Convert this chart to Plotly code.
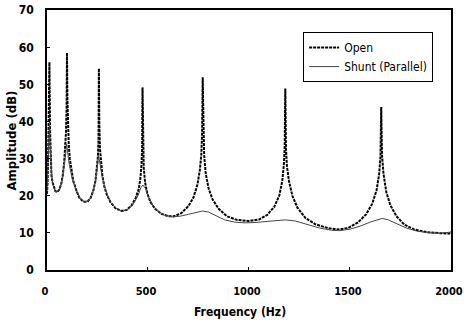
import plotly.graph_objects as go

# Open (dotted) curve
open_freq = [0, 3, 6, 9, 11, 12, 13, 15, 18, 22, 28, 35, 42, 50, 60, 70, 78, 85, 90, 94, 97, 99, 101, 104, 108, 113,
             120, 130, 145, 160, 180, 200, 215, 230, 240, 248, 252, 255, 257, 259, 262, 267, 274, 284, 297, 315, 340,
             370, 395, 420, 440, 455, 463, 468, 471, 473, 475, 479, 486, 497, 512, 535, 565, 600, 630, 665, 700, 725,
             745, 757, 764, 768, 771, 774, 778, 786, 800, 820, 850, 890, 940, 1000, 1050, 1090, 1125, 1150, 1165,
             1173, 1177, 1180, 1183, 1188, 1198, 1215, 1240, 1280, 1330, 1390, 1440, 1490, 1540, 1580, 1610, 1632,
             1645, 1651, 1655, 1659, 1666, 1680, 1700, 1730, 1770, 1820, 1880, 1950, 1990, 2000]
open_amp = [20.5, 24, 32, 42, 52, 56, 50, 38, 29, 25.5, 23.5, 22, 21.2, 21, 21.6, 23, 25.5, 29, 32.5, 37, 44, 58.5, 46,
            38, 33.5, 30, 27, 24, 21.5, 19.5, 18.4, 18.4, 19.3, 21.5, 24, 27.5, 30.5, 35, 54.3, 40, 33, 28.5, 25.5,
            22.5, 20.2, 18.2, 16.6, 15.9, 16.2, 17.5, 19.5, 22, 25, 28.5, 33, 49.2, 33, 27.5, 23.5, 20.5, 18.3, 16.5,
            15.2, 14.5, 14.5, 15.3, 17.2, 19.5, 23, 27, 31, 37, 51.9, 38, 31, 26, 22, 19, 16.5, 14.5, 13.5, 13.2,
            13.6, 14.8, 17, 20, 24, 28.5, 33, 48.9, 33, 28, 24, 20, 16.8, 14, 12.3, 11.3, 10.9, 11.3, 12.8, 15, 17.8,
            21.5, 26, 30.5, 43.9, 31, 26, 21, 17.5, 14.5, 12.2, 10.9, 10.2, 9.9, 9.8, 10.3]

# Shunt (Parallel) curve
shunt_freq = [0, 4, 8, 12, 15, 19, 24, 30, 40, 50, 62, 75, 85, 92, 97, 102, 110, 125, 145, 165, 185, 205, 222, 238,
              248, 255, 262, 272, 290, 315, 345, 375, 405, 430, 450, 465, 475, 487, 500, 520, 545, 580, 620, 660,
              700, 740, 770, 800, 840, 880, 930, 980, 1030, 1080, 1130, 1180, 1230, 1290, 1350, 1410, 1450, 1500,
              1550, 1600, 1640, 1660, 1690, 1730, 1780, 1830, 1880, 1940, 2000]
shunt_amp = [20.5, 26, 35, 40, 34, 28, 25, 23, 21.2, 21, 21.8, 24, 27.5, 31, 34, 32, 28.5, 24.5, 21.5, 19.2, 18.4,
             18.6, 20, 23.5, 27, 31, 29, 25.5, 21.5, 18.2, 16.5, 15.8, 16.5, 18, 20, 22.2, 22.9, 22, 20, 17.8, 16,
             14.8, 14.3, 14.5, 15, 15.6, 15.9, 15.6, 14.5, 13.5, 12.9, 12.7, 12.8, 13.1, 13.4, 13.5, 13.2, 12.3,
             11.3, 10.7, 10.6, 11, 11.8, 12.9, 13.7, 13.9, 13.5, 12.5, 11.3, 10.5, 10.1, 9.9, 10.2]

x_ticks = [0, 500, 1000, 1500, 2000]
y_ticks = [0, 10, 20, 30, 40, 50, 60, 70]

FONT = "Liberation Sans Narrow, DejaVu Sans Condensed, Liberation Sans, Arial"

fig = go.Figure()
fig.add_trace(go.Scatter(x=open_freq, y=open_amp, mode="lines", name="Open",
                         line=dict(color="black", width=2, dash="3px,1px")))
fig.add_trace(go.Scatter(x=shunt_freq, y=shunt_amp, mode="lines", name="Shunt (Parallel)",
                         line=dict(color="#444444", width=1)))

axis_common = dict(showline=True, linecolor="black", linewidth=1.5, mirror=True, ticks="inside", ticklen=3,
                   tickcolor="black", showgrid=False, zeroline=False, automargin=False,
                   ticklabeloverflow="allow")

fig.update_layout(
    width=464, height=324,
    margin=dict(l=47, r=13, t=10, b=54),
    paper_bgcolor="white", plot_bgcolor="white",
    showlegend=True,
    legend=dict(x=0.634, y=0.915, xanchor="left", yanchor="top", bordercolor="black", borderwidth=1,
                bgcolor="white", font=dict(family=FONT, size=12, color="black"),
                tracegroupgap=0, itemwidth=30),
    xaxis=dict(range=[0, 2000.5], tickvals=x_ticks, ticklabelstandoff=10, ticklabelshift=-2,
               tickfont=dict(family=FONT, size=11, color="black", weight="bold"), **axis_common),
    yaxis=dict(range=[0, 70.05], tickvals=y_ticks, ticklabelstandoff=9,
               tickfont=dict(family=FONT, size=12, color="black", weight="bold"), **axis_common),
    annotations=[
        dict(text="<b>Frequency (Hz)</b>", x=0.478, y=-0.163, xref="paper", yref="paper", xanchor="center",
             yanchor="middle", showarrow=False, font=dict(family=FONT, size=12, color="black")),
        dict(text="<b>Amplitude (dB)</b>", x=-0.088, y=0.5, xref="paper", yref="paper", xanchor="center",
             yanchor="middle", textangle=-90, showarrow=False, font=dict(family=FONT, size=13, color="black")),
    ],
)

fig.write_html("out.html", config={"displayModeBar": False},
               post_script="document.body.style.margin='0px';")
